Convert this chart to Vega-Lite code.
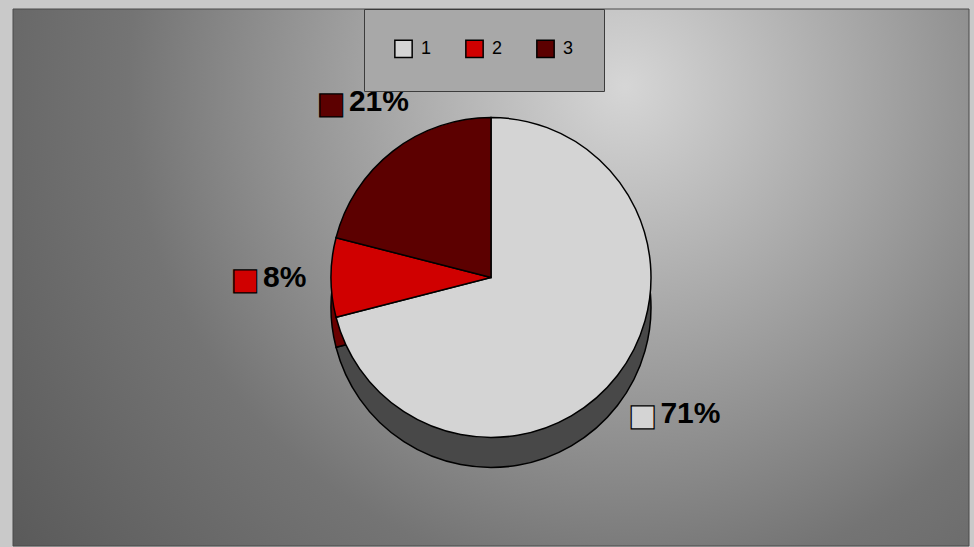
{
  "$schema": "https://vega.github.io/schema/vega-lite/v6.json",
  "width": 974,
  "height": 547,
  "autosize": {"type": "fit", "contains": "padding"},
  "padding": {"left": 12, "top": 8, "right": 4, "bottom": 0},
  "background": "#c9c9c9",
  "config": {
    "view": {"stroke": null},
    "font": "Liberation Sans"
  },
  "data": {
    "values": [
      {"category": "1", "value": 0.71},
      {"category": "2", "value": 0.08},
      {"category": "3", "value": 0.21}
    ]
  },
  "resolve": {"scale": {"color": "independent"}},
  "layer": [
    {
      "data": {"values": [{"bg": 1}]},
      "mark": {
        "type": "rect",
        "stroke": "#4a4a4a",
        "strokeWidth": 1,
        "color": {
          "gradient": "radial",
          "x1": 0.64, "y1": 0.3, "r1": 0,
          "x2": 0.64, "y2": 0.3, "r2": 0.8,
          "stops": [
            {"offset": 0, "color": "#d6d6d6"},
            {"offset": 0.25, "color": "#b0b0b0"},
            {"offset": 0.65, "color": "#747474"},
            {"offset": 1, "color": "#5a5a5a"}
          ]
        }
      },
      "encoding": {}
    },
    {
      "mark": {"type": "arc", "outerRadius": 160, "yOffset": 30, "stroke": "black", "strokeWidth": 1.5},
      "encoding": {
        "theta": {"field": "value", "type": "quantitative", "stack": true},
        "color": {
          "field": "category", "type": "nominal",
          "scale": {"domain": ["1", "2", "3"], "range": ["#484848", "#6a0000", "#3a0000"]},
          "legend": null
        }
      }
    },
    {
      "mark": {"type": "arc", "outerRadius": 160, "stroke": "black", "strokeWidth": 1.5},
      "encoding": {
        "theta": {"field": "value", "type": "quantitative", "stack": true},
        "color": {
          "field": "category", "type": "nominal",
          "scale": {"domain": ["1", "2", "3"], "range": ["#d4d4d4", "#d00000", "#5c0000"]},
          "legend": {
            "title": null,
            "orient": "none",
            "legendX": 351,
            "legendY": 0,
            "direction": "horizontal",
            "fillColor": "#a8a8a8",
            "strokeColor": "#3c3c3c",
            "padding": 30,
            "columnPadding": 30,
            "symbolType": "square",
            "symbolSize": 300,
            "symbolStrokeColor": "black",
            "symbolStrokeWidth": 1.5,
            "symbolOpacity": 1,
            "labelFontSize": 18,
            "labelColor": "black",
            "labelOffset": 8,
            "labelFont": "Liberation Sans"
          }
        }
      }
    },
    {
      "mark": {"type": "text", "text": "■", "radius": 222, "dx": -24, "dy": 2, "font": "DejaVu Sans", "fontSize": 30, "stroke": "black", "strokeWidth": 1.2, "align": "center", "baseline": "middle"},
      "encoding": {
        "theta": {"field": "value", "type": "quantitative", "stack": true},
        "color": {
          "field": "category", "type": "nominal",
          "scale": {"domain": ["1", "2", "3"], "range": ["#d4d4d4", "#d00000", "#5c0000"]},
          "legend": null
        }
      }
    },
    {
      "mark": {"type": "text", "radius": 222, "dx": -6, "fontSize": 30, "fontWeight": "bold", "align": "left", "baseline": "middle", "color": "black"},
      "encoding": {
        "theta": {"field": "value", "type": "quantitative", "stack": true},
        "order": {"field": "category"},
        "detail": {"field": "category"},
        "text": {"field": "value", "type": "quantitative", "format": ".0%"}
      }
    }
  ]
}
